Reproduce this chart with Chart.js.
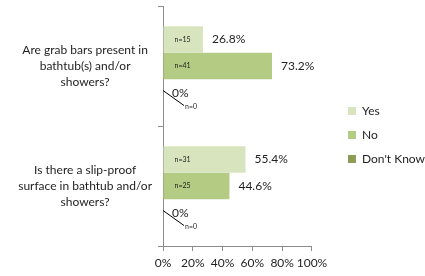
<!DOCTYPE html>
<html>
<head>
<meta charset="utf-8">
<script src="https://cdn.jsdelivr.net/npm/chart.js"></script>
<style>
  html, body { margin: 0; padding: 0; background: #ffffff; }
  #wrap { width: 425px; height: 276px; }
</style>
</head>
<body>
<div id="wrap"><canvas id="chart" width="425" height="276"></canvas></div>
<script>
// categories (multi-line labels)
const questions = [
    ['Are grab bars present in', 'bathtub(s) and/or', 'showers?'],
    ['Is there a slip-proof', 'surface in bathtub and/or', 'showers?']
];
const seriesNames = ['Yes', 'No', "Don't Know"];

// percentages per series
const yesPct = [26.8, 55.4];
const noPct = [73.2, 44.6];
const dontKnowPct = [0, 0];

// respondent counts per series
const yesCount = [15, 31];
const noCount = [41, 25];
const dontKnowCount = [0, 0];

const xTicks = [0, 20, 40, 60, 80, 100];

const colors = ['#d7e4bd', '#b3cb83', '#8b9d55'];
const fontFamily = "Lato, 'Liberation Sans', sans-serif";
const textColor = '#1e1e1e';
const axisColor = '#8c8c8c';

const counts = [yesCount, noCount, dontKnowCount];

// draws n= and % labels next to each bar
const barLabels = {
    id: 'barLabels',
    afterDatasetsDraw(chart) {
        const ctx = chart.ctx;
        ctx.save();
        ctx.fillStyle = textColor;
        ctx.textBaseline = 'middle';
        ctx.textAlign = 'left';
        chart.data.datasets.forEach(function(ds, i) {
            const meta = chart.getDatasetMeta(i);
            meta.data.forEach(function(bar, j) {
                const v = ds.data[j];
                const n = counts[i][j];
                const x0 = bar.base;
                const cy = bar.y;
                if (v > 0) {
                    ctx.font = '7px ' + fontFamily;
                    ctx.fillText('n=' + n, x0 + 11, cy);
                    ctx.font = '12px ' + fontFamily;
                    ctx.fillText(v.toFixed(1) + '%', bar.x + 9, cy);
                } else {
                    ctx.strokeStyle = '#000';
                    ctx.lineWidth = 1;
                    ctx.beginPath();
                    ctx.moveTo(x0, cy - 2);
                    ctx.lineTo(x0 + 21, cy + 13);
                    ctx.stroke();
                    ctx.font = '12px ' + fontFamily;
                    ctx.fillText('0%', x0 + 9, cy + 1);
                    ctx.font = '7px ' + fontFamily;
                    ctx.fillText('n=' + n, x0 + 22, cy + 14);
                }
            });
        });
        ctx.restore();
    }
};

// push the legend away from the plot and up a little, as in the original
const legendShift = {
    id: 'legendShift',
    afterLayout(chart) {
        const lg = chart.legend;
        if (lg) {
            lg.left += 24;
            lg.right += 24;
            lg.top -= 6;
            lg.bottom -= 6;
        }
    }
};

new Chart(document.getElementById('chart').getContext('2d'), {
    type: 'bar',
    data: {
        labels: questions,
        datasets: [
            { label: seriesNames[0], data: yesPct, backgroundColor: colors[0] },
            { label: seriesNames[1], data: noPct, backgroundColor: colors[1] },
            { label: seriesNames[2], data: dontKnowPct, backgroundColor: colors[2] }
        ]
    },
    options: {
        indexAxis: 'y',
        responsive: false,
        animation: false,
        devicePixelRatio: 1,
        categoryPercentage: 0.6625,
        barPercentage: 1,
        layout: { padding: { top: 6, left: 0, right: 14, bottom: 0 } },
        scales: {
            x: {
                min: 0,
                max: 100,
                afterBuildTicks: function(scale) {
                    scale.ticks = xTicks.map(function(v) { return { value: v }; });
                },
                afterFit: function(scale) {
                    scale.height = 30;
                    scale.paddingLeft = 0;
                    scale.paddingRight = 0;
                },
                grid: { drawOnChartArea: false, tickLength: 5, color: axisColor },
                border: { color: axisColor },
                ticks: {
                    padding: 5,
                    maxRotation: 0,
                    minRotation: 0,
                    autoSkip: false,
                    color: textColor,
                    font: { family: fontFamily, size: 12 },
                    callback: function(v) { return v + '%'; }
                }
            },
            y: {
                afterFit: function(scale) {
                    scale.width = 163;
                    scale.paddingTop = 0;
                    scale.paddingBottom = 0;
                },
                grid: { drawOnChartArea: false, tickLength: 5, color: axisColor, offset: true },
                border: { color: axisColor },
                ticks: {
                    padding: 6,
                    crossAlign: 'center',
                    color: textColor,
                    font: { family: fontFamily, size: 12, lineHeight: 1.35 }
                }
            }
        },
        plugins: {
            legend: {
                position: 'right',
                labels: {
                    boxWidth: 8,
                    boxHeight: 8,
                    padding: 12,
                    color: textColor,
                    font: { family: fontFamily, size: 12 }
                }
            },
            tooltip: { enabled: false }
        }
    },
    plugins: [barLabels, legendShift]
});
</script>
</body>
</html>
